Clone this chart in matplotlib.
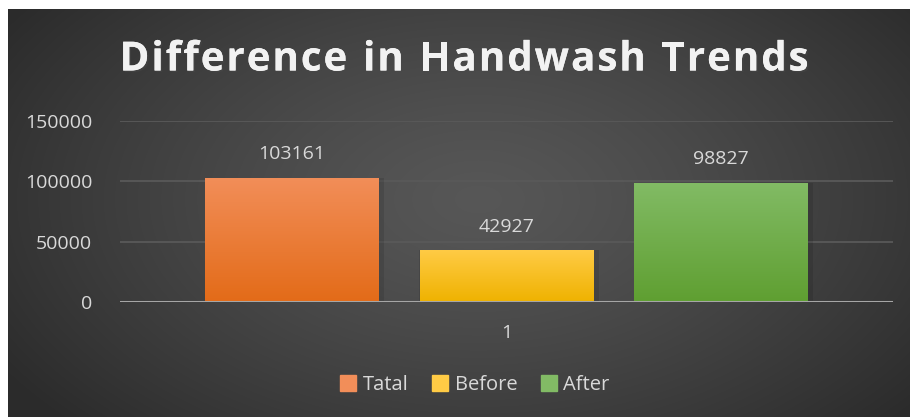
import matplotlib.pyplot as plt
import matplotlib.patheffects as pe
import numpy as np
from matplotlib.colors import LinearSegmentedColormap

plt.rcParams['font.family'] = ['Open Sans', 'DejaVu Sans']

# data
series = ["Tatal", "Before", "After"]
values = [103161, 42927, 98827]
category = "1"
yticks = [0, 50000, 100000, 150000]
title = "Difference in Handwash Trends"

top_colors = ["#f28e59", "#ffcb45", "#82bb65"]
bottom_colors = ["#e36b18", "#efb200", "#5f9f31"]

W, H = 910, 417
fig = plt.figure(figsize=(W / 100, H / 100), dpi=100)
fig.patch.set_facecolor("white")

# dark radial background
bg = fig.add_axes([8 / W, 0, (W - 8) / W, (H - 9) / H])
bg.set_axis_off()
yy, xx = np.mgrid[0:408, 0:902]
d = np.sqrt(((xx - 470) / 560.0) ** 2 + ((yy - 190) / 330.0) ** 2)
d = np.clip(d, 0, 1)
shade = 0.34 - 0.17 * d ** 1.3
bg.imshow(np.dstack([shade, shade, shade]), aspect="auto", extent=[0, 1, 0, 1])
bg.set_xlim(0, 1)
bg.set_ylim(0, 1)

ax = fig.add_axes([120 / W, 1 - 302 / H, (893 - 120) / W, (302 - 121) / H])
ax.set_facecolor("none")

for y in yticks[1:]:
    ax.axhline(y, color="#595959", lw=1.3, zorder=1)
ax.axhline(0, color="#a6a6a6", lw=2.2, zorder=4)

xs = [-1, 0, 1]
width = 0.81
bars = ax.bar(xs, values, width=width, color="none", zorder=3)
for i, b in enumerate(bars):
    cmap = LinearSegmentedColormap.from_list("g", [bottom_colors[i], top_colors[i]])
    grad = np.linspace(0, 1, 256).reshape(-1, 1)
    x0 = b.get_x()
    im = ax.imshow(grad, cmap=cmap, aspect="auto", origin="lower",
                   extent=[x0, x0 + width, 0, values[i]], zorder=3)
    im.set_clip_path(b)
    # soft shadow
    ax.bar(xs[i] + 0.012, values[i], width=width + 0.025, color="black", alpha=0.1,
           zorder=2)
    ax.text(xs[i], values[i] + 12000, str(values[i]), ha="center", va="bottom",
            color="#d9d9d9", fontsize=14)

ax.set_xlim(-1.8, 1.8)
ax.set_ylim(0, 150000)
ax.set_yticks(yticks)
ax.set_yticklabels([str(t) for t in yticks])
ax.set_xticks([0])
ax.set_xticklabels([category])
ax.tick_params(axis="both", length=0, colors="#d9d9d9", labelsize=14)
ax.tick_params(axis="y", pad=20)
ax.tick_params(axis="x", pad=16)
for s in ax.spines.values():
    s.set_visible(False)

# title with letter spacing, placed char by char
renderer = fig.canvas.get_renderer()
tprops = dict(color="#f2f2f2", fontsize=29, fontweight="bold", va="center",
              ha="left",
              path_effects=[pe.withSimplePatchShadow(offset=(1.2, -1.2), alpha=0.45),
                            pe.Normal()])
spacing = 2.0
widths = []
for ch in title:
    t = fig.text(0, 0, ch if ch != " " else "n", **tprops)
    w = t.get_window_extent(renderer).width
    if ch == " ":
        w *= 0.45
    widths.append(w)
    t.remove()
total = sum(widths) + spacing * (len(title) - 1)
x = 464 - total / 2
for ch, w in zip(title, widths):
    if ch != " ":
        fig.text(x / W, 1 - 60 / H, ch, **tprops)
    x += w + spacing

handles = [plt.Rectangle((0, 0), 1, 1, color=c) for c in top_colors]
fig.legend(handles, series, loc="center", bbox_to_anchor=(475 / W, 1 - 385 / H),
           ncol=3, frameon=False, fontsize=14.5, labelcolor="#d9d9d9",
           handlelength=0.8, handleheight=0.8, handletextpad=0.3, columnspacing=1.2)

fig.savefig("out.png", dpi=100, facecolor=fig.get_facecolor())
